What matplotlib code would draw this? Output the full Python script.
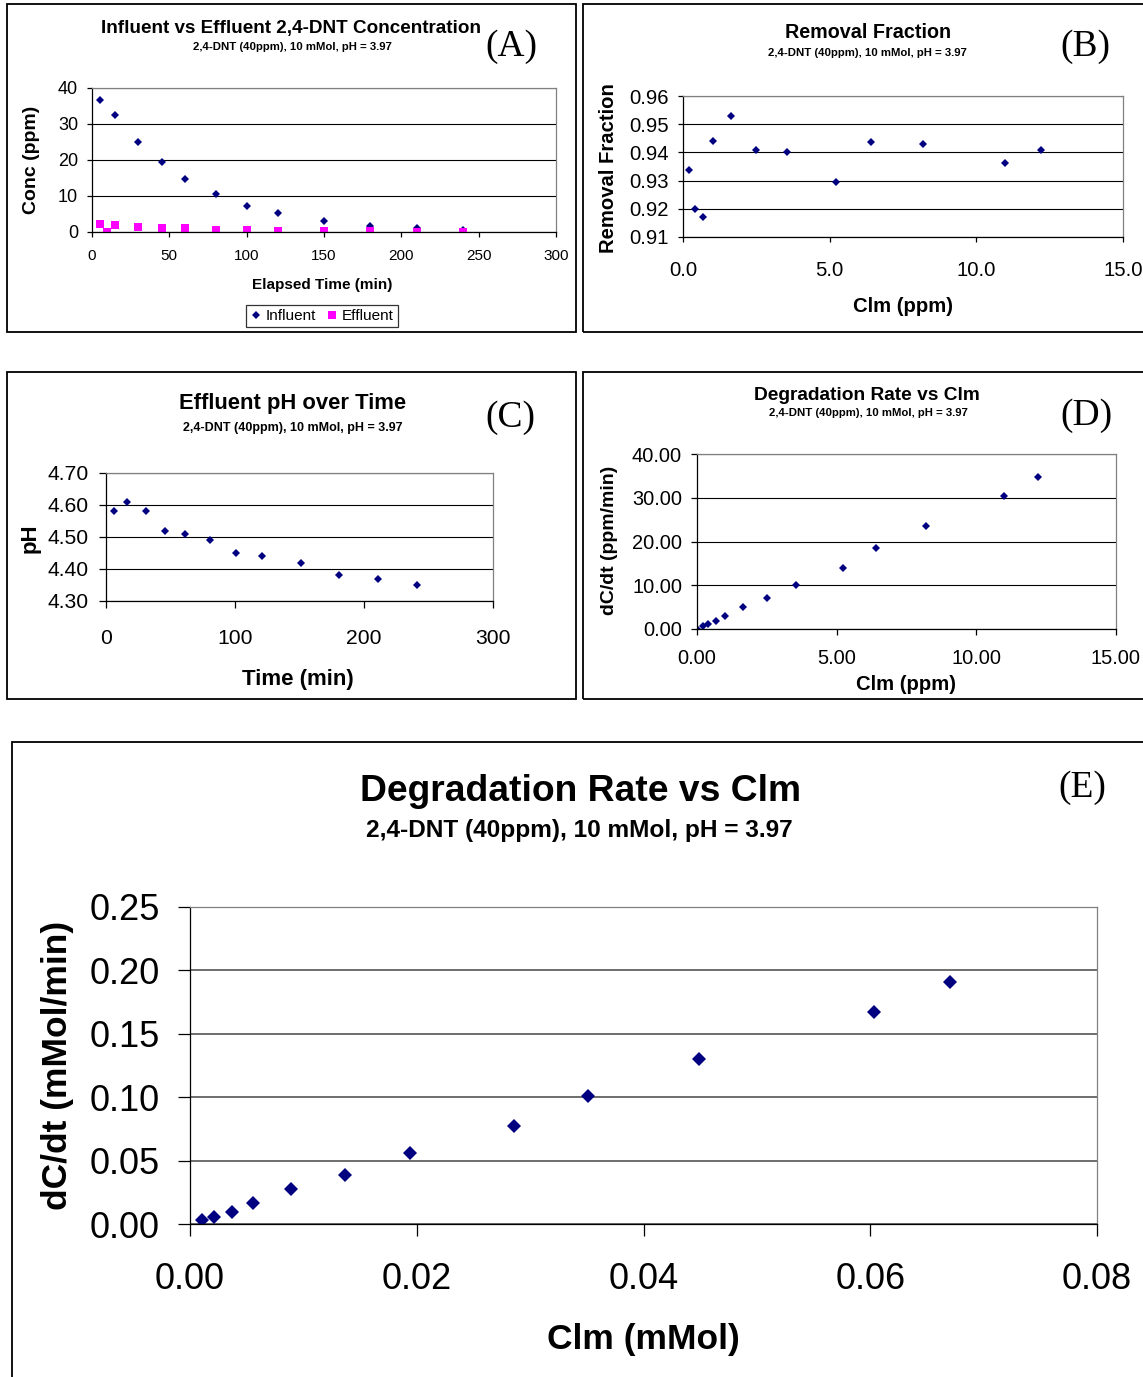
import matplotlib
matplotlib.use("Agg")
import matplotlib.pyplot as plt
from matplotlib.patches import Rectangle
from matplotlib.ticker import FormatStrFormatter

plt.rcParams['font.family'] = ['Liberation Sans', 'DejaVu Sans']

# (A) influent / effluent concentration
infl_time = [5, 15, 30, 45, 60, 80, 100, 120, 150, 180, 210, 240]
infl_conc = [36.8, 32.5, 24.9, 19.4, 14.8, 10.6, 7.3, 5.2, 3.0, 1.8, 1.0, 0.6]
effl_time = [5, 10, 15, 30, 45, 60, 80, 100, 120, 150, 180, 210, 240]
effl_conc = [2.3, 0.0, 2.0, 1.4, 1.0, 1.0, 0.65, 0.45, 0.3, 0.3, 0.3, 0.1, 0.1]

# (B) removal fraction vs Clm
rem_clm = [0.21, 0.40, 0.67, 1.02, 1.63, 2.48, 3.56, 5.23, 6.40, 8.19, 10.98, 12.22]
rem_frac = [0.9337, 0.9201, 0.9170, 0.9441, 0.9528, 0.9410, 0.9400, 0.9295,
            0.9437, 0.9431, 0.9364, 0.9408]

# (C) effluent pH
ph_time = [6, 16, 31, 46, 61, 81, 101, 121, 151, 181, 211, 241]
ph_val = [4.58, 4.61, 4.58, 4.52, 4.51, 4.49, 4.45, 4.44, 4.42, 4.38, 4.37, 4.35]

# (D) degradation rate, ppm
rate_clm_ppm = [0.0, 0.23, 0.40, 0.67, 1.02, 1.65, 2.49, 3.56, 5.23, 6.40, 8.20, 10.99, 12.21]
rate_ppm = [0.0, 0.6, 1.1, 1.8, 3.05, 5.0, 7.1, 10.15, 14.0, 18.5, 23.6, 30.5, 34.7]

# (E) degradation rate, mMol
rate_clm_mmol = [0.00106, 0.0021, 0.0037, 0.0056, 0.0089, 0.0137, 0.0194, 0.0286,
                 0.0351, 0.0449, 0.0603, 0.0670]
rate_mmol = [0.0032, 0.0055, 0.0095, 0.0166, 0.0276, 0.0386, 0.056, 0.0773,
             0.101, 0.130, 0.167, 0.191]

subtitle = "2,4-DNT (40ppm), 10 mMol, pH = 3.97"
NAVY = '#000080'
PINK = '#FF00FF'

W, H = 1143, 1377
fig = plt.figure(figsize=(W / 100, H / 100), dpi=100)
PX = 0.72  # points per pixel


def add_ax(x0, y0, x1, y1):
    return fig.add_axes([x0 / W, 1 - y1 / H, (x1 - x0) / W, (y1 - y0) / H])


def ftext(x, y, s, **kw):
    fig.text(x / W, 1 - y / H, s, ha='center', va='center', **kw)


def box(x0, y0, x1, y1):
    fig.add_artist(Rectangle((x0 / W, 1 - y1 / H), (x1 - x0) / W, (y1 - y0) / H,
                             transform=fig.transFigure, fill=False,
                             ec='black', lw=1.3, zorder=10))


def style(ax, fs, ticklen, xpad, ypad, grid_color='black', grid_lw=0.8):
    for s in ['left', 'bottom']:
        ax.spines[s].set_color('black')
        ax.spines[s].set_linewidth(0.9)
    for s in ['top', 'right']:
        ax.spines[s].set_color('#808080')
        ax.spines[s].set_linewidth(0.9)
    ax.tick_params(axis='both', direction='out', length=ticklen * PX,
                   width=0.9, labelsize=fs)
    ax.tick_params(axis='x', pad=xpad * PX)
    ax.tick_params(axis='y', pad=ypad * PX)
    ax.yaxis.grid(True, color=grid_color, lw=grid_lw)
    ax.set_axisbelow(True)


# ---------------- (A) ----------------
box(7, 4, 576, 332)
axA = add_ax(92, 88, 556, 232)
axA.plot(infl_time, infl_conc, 'D', color=NAVY, ms=3.8, mew=0, label='Influent')
axA.plot(effl_time, effl_conc, 's', color=PINK, ms=5.3, mew=0, label='Effluent')
axA.set_xlim(0, 300)
axA.set_ylim(0, 40)
axA.set_xticks(range(0, 301, 50))
axA.set_yticks(range(0, 41, 10))
style(axA, 11, 5, 12, 9)
axA.tick_params(axis='y', labelsize=13)
leg = axA.legend(loc='center', bbox_to_anchor=(322 / W, 1 - 316 / H),
                 bbox_transform=fig.transFigure, ncol=2, fontsize=11,
                 frameon=True, fancybox=False, edgecolor='black',
                 handlelength=0.7, handletextpad=0.3, columnspacing=0.7,
                 borderpad=0.25, borderaxespad=0)
leg.get_frame().set_linewidth(0.9)
ftext(291, 29, "Influent vs Effluent 2,4-DNT Concentration", fontsize=13.6, fontweight='bold')
ftext(292, 47, subtitle, fontsize=8.2, fontweight='bold')
ftext(511, 47, "(A)", fontsize=27, family='Liberation Serif')
ftext(322, 285, "Elapsed Time (min)", fontsize=11, fontweight='bold')
ftext(32, 160, "Conc (ppm)", fontsize=14, fontweight='bold', rotation=90)

# ---------------- (B) ----------------
box(583, 4, 1160, 332)
axB = add_ax(683, 96, 1123, 237)
axB.plot(rem_clm, rem_frac, 'D', color=NAVY, ms=4.0, mew=0)
axB.set_xlim(0, 15)
axB.set_ylim(0.91, 0.96)
axB.set_xticks([0, 5, 10, 15])
axB.set_yticks([0.91, 0.92, 0.93, 0.94, 0.95, 0.96])
axB.xaxis.set_major_formatter(FormatStrFormatter('%.1f'))
axB.yaxis.set_major_formatter(FormatStrFormatter('%.2f'))
style(axB, 14.6, 5, 19, 9)
ftext(868, 33, "Removal Fraction", fontsize=14.2, fontweight='bold')
ftext(867, 53, subtitle, fontsize=8.2, fontweight='bold')
ftext(1085, 47, "(B)", fontsize=27, family='Liberation Serif')
ftext(903, 306, "Clm (ppm)", fontsize=14.6, fontweight='bold')
ftext(609, 168, "Removal Fraction", fontsize=14.6, fontweight='bold', rotation=90)

# ---------------- (C) ----------------
box(7, 372, 576, 699)
axC = add_ax(106, 473, 493, 601)
axC.plot(ph_time, ph_val, 'D', color=NAVY, ms=4.1, mew=0)
axC.set_xlim(0, 300)
axC.set_ylim(4.30, 4.70)
axC.set_xticks([0, 100, 200, 300])
axC.set_yticks([4.30, 4.40, 4.50, 4.60, 4.70])
axC.yaxis.set_major_formatter(FormatStrFormatter('%.2f'))
style(axC, 15.2, 7, 21, 10)
ftext(293, 403, "Effluent pH over Time", fontsize=15.8, fontweight='bold')
ftext(293, 428, subtitle, fontsize=9, fontweight='bold')
ftext(510, 418, "(C)", fontsize=27, family='Liberation Serif')
ftext(298, 680, "Time (min)", fontsize=16, fontweight='bold')
ftext(30, 538, "pH", fontsize=16, fontweight='bold', rotation=90)

# ---------------- (D) ----------------
box(583, 372, 1160, 699)
axD = add_ax(697, 454, 1116, 629)
axD.plot(rate_clm_ppm, rate_ppm, 'D', color=NAVY, ms=4.0, mew=0)
axD.set_xlim(0, 15)
axD.set_ylim(0, 40)
axD.set_xticks([0, 5, 10, 15])
axD.set_yticks([0, 10, 20, 30, 40])
axD.xaxis.set_major_formatter(FormatStrFormatter('%.2f'))
axD.yaxis.set_major_formatter(FormatStrFormatter('%.2f'))
style(axD, 14.4, 6, 14, 9)
ftext(867, 396, "Degradation Rate vs Clm", fontsize=13.8, fontweight='bold')
ftext(868, 413, subtitle, fontsize=8.2, fontweight='bold')
ftext(1086, 416, "(D)", fontsize=27, family='Liberation Serif')
ftext(906, 685, "Clm (ppm)", fontsize=14.6, fontweight='bold')
ftext(609, 540, "dC/dt (ppm/min)", fontsize=14, fontweight='bold', rotation=90)

# ---------------- (E) ----------------
box(12, 742, 1160, 1400)
axE = add_ax(190, 907, 1097, 1224)
axE.plot(rate_clm_mmol, rate_mmol, 'D', color=NAVY, ms=7.1, mew=0)
axE.set_xlim(0, 0.08)
axE.set_ylim(0, 0.25)
axE.set_xticks([0, 0.02, 0.04, 0.06, 0.08])
axE.set_yticks([0, 0.05, 0.10, 0.15, 0.20, 0.25])
axE.xaxis.set_major_formatter(FormatStrFormatter('%.2f'))
axE.yaxis.set_major_formatter(FormatStrFormatter('%.2f'))
style(axE, 26, 12, 26, 18, grid_color='#555555', grid_lw=1.2)
ftext(580, 792, "Degradation Rate vs Clm", fontsize=26.8, fontweight='bold')
ftext(579, 830, subtitle, fontsize=17.6, fontweight='bold')
ftext(1082, 788, "(E)", fontsize=27, family='Liberation Serif')
ftext(643, 1340, "Clm (mMol)", fontsize=25.5, fontweight='bold')
ftext(57, 1065, "dC/dt (mMol/min)", fontsize=25.5, fontweight='bold', rotation=90)

fig.savefig('out.png', dpi=100)
